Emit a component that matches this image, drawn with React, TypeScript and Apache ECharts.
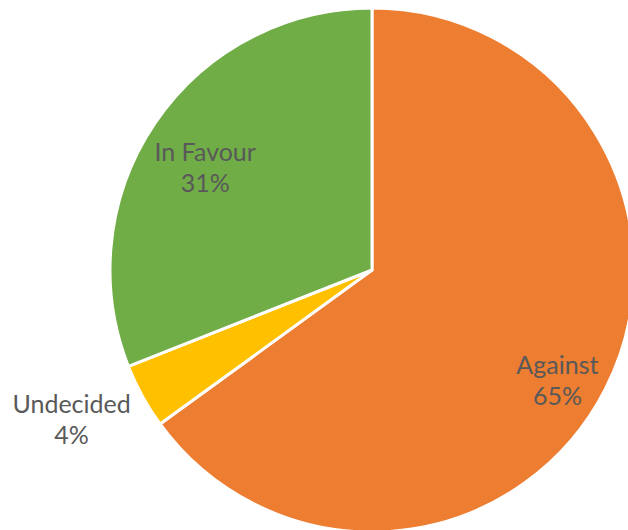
import React, { useEffect, useRef } from "react";
import * as echarts from "echarts";

const categories = ["Against", "Undecided", "In Favour"];
const values = [65, 4, 31];
const colors = ["#ED7D31", "#FFC000", "#70AD47"];
const labelNudges = [
  [66, 49],
  [-183, 84],
  [-56, -28],
];

export default function App() {
  const ref = useRef<HTMLDivElement>(null);
  useEffect(() => {
    const chart = echarts.init(ref.current!, null, { renderer: "svg" });
    chart.setOption({
      animation: false,
      series: [
        {
          type: "pie",
          center: [372, 270],
          radius: [0, 262],
          startAngle: 90,
          clockwise: true,
          avoidLabelOverlap: false,
          itemStyle: { borderColor: "#ffffff", borderWidth: 3 },
          label: {
            show: true,
            position: "inside",
            formatter: (p: any) => `${p.name}\n${p.value}%`,
            fontFamily: "Lato",
            fontSize: 25,
            lineHeight: 31,
            color: "#595959",
            align: "center",
          },
          labelLine: { show: false },
          labelLayout: (p: any) => ({
            dx: labelNudges[p.dataIndex][0],
            dy: labelNudges[p.dataIndex][1],
          }),
          emphasis: { disabled: true },
          data: categories.map((name, i) => ({
            name,
            value: values[i],
            itemStyle: { color: colors[i] },
          })),
        },
      ],
    });
    return () => chart.dispose();
  }, []);
  return (
    <div
      ref={ref}
      style={{ position: "absolute", left: 0, top: 0, width: 628, height: 530 }}
    />
  );
}
